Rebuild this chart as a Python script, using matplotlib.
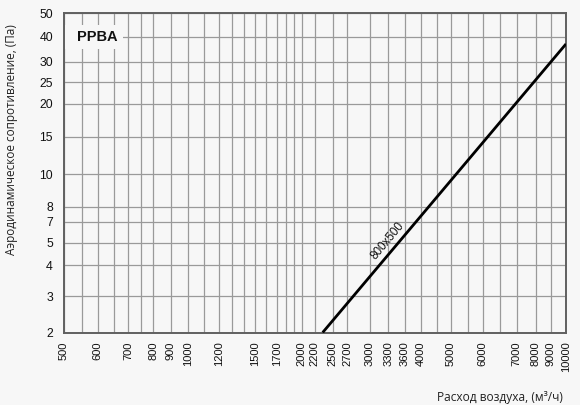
import numpy as np
import matplotlib
matplotlib.use("Agg")
import matplotlib.pyplot as plt
from matplotlib.patches import Rectangle

# ---------------- data ----------------
x_tick_values = [500, 600, 700, 800, 900, 1000, 1200, 1500, 1700, 2000, 2200,
                 2500, 2700, 3000, 3300, 3600, 4000, 5000, 6000, 7000, 8000,
                 9000, 10000]
x_minor_values = [550, 650, 750, 1100, 1300, 1400, 1600, 1800, 1900,
                  4500, 5500, 6500]
y_tick_values = [2, 3, 4, 5, 7, 8, 10, 15, 20, 25, 30, 40, 50]

series_name = "800x500"
flow = [2330, 10000]          # м³/ч
pressure = [2.0, 36.8]        # Па

title_text = "PPBA"
x_label = "Расход воздуха, (м³/ч)"
y_label = "Аэродинамическое сопротивление, (Па)"

# ---------------- layout (nomogram scale calibration) ----------------
W, H = 580, 405
x_scale_px = [64, 97.7, 128.3, 153.3, 171, 188, 219.3, 255, 277.3, 301.7, 314.5,
              332.7, 347.3, 370, 388.3, 405, 421, 451, 482.7, 516.7, 535.7,
              551, 566]
y_scale_px = [332.5, 296.3, 265.3, 242.7, 221.7, 206.7, 174.3, 136.7, 104,
              82.3, 61.7, 36.7, 13.3]


def make_scale(vals, pos):
    lv = np.log10(np.asarray(vals, float))
    p = np.asarray(pos, float)
    s0 = (p[1] - p[0]) / (lv[1] - lv[0])
    s1 = (p[-1] - p[-2]) / (lv[-1] - lv[-2])

    def fwd(v):
        v = np.asarray(v, float)
        l = np.log10(np.clip(v, 1e-12, None))
        out = np.interp(l, lv, p)
        out = np.where(l < lv[0], p[0] + (l - lv[0]) * s0, out)
        out = np.where(l > lv[-1], p[-1] + (l - lv[-1]) * s1, out)
        return out

    def inv(u):
        u = np.asarray(u, float)
        l = np.interp(u, p, lv)
        l = np.where(u < p[0], lv[0] + (u - p[0]) / s0, l)
        l = np.where(u > p[-1], lv[-1] + (u - p[-1]) / s1, l)
        return 10 ** l

    return fwd, inv


xf, xi = make_scale(x_tick_values, x_scale_px)
yf, yi = make_scale(y_tick_values, [-v for v in y_scale_px])

bg = "#f7f7f7"
fig = plt.figure(figsize=(W / 100, H / 100), dpi=100, facecolor=bg)
ax = fig.add_axes([64 / W, 1 - 332.5 / H, (566 - 64) / W, (332.5 - 13.3) / H])
ax.set_facecolor(bg)

ax.set_xscale("function", functions=(xf, xi))
ax.set_yscale("function", functions=(yf, yi))
ax.set_xlim(500, 10000)
ax.set_ylim(2, 50)

tick_font = ["Liberation Sans", "DejaVu Sans"]
ax.set_xticks(x_tick_values)
ax.set_xticklabels([str(v) for v in x_tick_values], rotation=90,
                   family=tick_font, fontsize=8, color="#111111")
ax.set_xticks(x_minor_values, minor=True)
ax.set_yticks(y_tick_values)
ax.set_yticklabels([str(v) for v in y_tick_values],
                   family=tick_font, fontsize=8.8, color="#111111")
ax.yaxis.set_minor_locator(matplotlib.ticker.NullLocator())
ax.tick_params(axis="both", which="both", length=0)
ax.tick_params(axis="x", pad=6.5)
ax.tick_params(axis="y", pad=8)

ax.set_axisbelow(True)
ax.grid(True, which="both", color="#9a9a9a", linewidth=0.9)
for s in ax.spines.values():
    s.set_color("#606060")
    s.set_linewidth(1.4)

ax.plot(flow, pressure, color="black", linewidth=2.0, solid_capstyle="butt",
        zorder=3)
ax.text(3290, 5.14, series_name, rotation=50, rotation_mode="anchor",
        ha="center", va="center", fontsize=8.4, family=tick_font,
        color="#111111", zorder=4)

ax.add_patch(Rectangle((65 / W, 1 - 49 / H), 58 / W, 24 / H,
                       transform=fig.transFigure, facecolor=bg,
                       edgecolor="none", zorder=2))
ax.text(97 / W, 1 - 37 / H, title_text, transform=fig.transFigure,
        ha="center", va="center", fontsize=10.5, fontweight="bold",
        family=tick_font, color="#111111", zorder=4)

label_font = ["Open Sans", "DejaVu Sans"]
fig.text(563 / W, 1 - 397 / H, x_label, ha="right", va="center",
         fontsize=8.6, family=label_font, color="#222222")
fig.text(11.5 / W, 1 - 139.5 / H, y_label, ha="center", va="center",
         rotation=90, fontsize=8.5, family=label_font, color="#222222")

fig.savefig("out.png", dpi=100, facecolor=bg)
